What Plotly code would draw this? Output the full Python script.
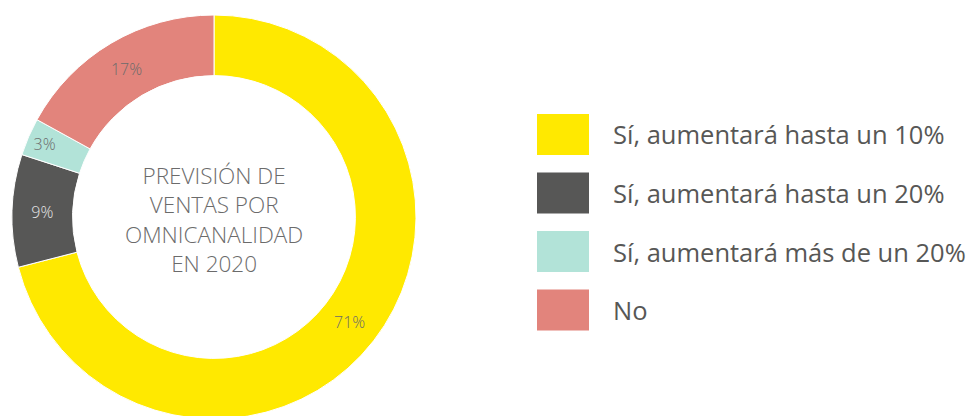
import plotly.graph_objects as go

labels = ["Sí, aumentará hasta un 10%", "Sí, aumentará hasta un 20%",
          "Sí, aumentará más de un 20%", "No"]
values = [71, 9, 3, 17]
colors = ["#FFE900", "#575756", "#B2E3D8", "#E2847C"]
text_colors = ["#6b6b6b", "#e6e6e6", "#6b6b6b", "#6b6b6b"]
center_lines = ["PREVISIÓN DE", "VENTAS POR", "OMNICANALIDAD", "EN 2020"]

W, H = 975, 416
OFF = 8  # page body margin

def px_x(x):
    return (x - OFF) / W

def px_y(y):
    return (H - (y - OFF)) / H

# pie geometry (page pixels)
cx, cy, r = 214, 217, 202

fig = go.Figure()
fig.add_trace(go.Pie(
    labels=labels, values=values,
    marker=dict(colors=colors, line=dict(color="white", width=1)),
    hole=0.70, sort=False, direction="clockwise", rotation=0,
    textposition="inside", insidetextorientation="horizontal",
    texttemplate="%{value}%",
    textfont=dict(family="Open Sans", size=16, color=text_colors, weight=300),
    domain=dict(x=[px_x(cx - r), px_x(cx + r)], y=[px_y(cy + r), px_y(cy - r)]),
    showlegend=False, hoverinfo="label+percent",
))

fig.add_annotation(x=px_x(cx), y=px_y(219), xref="paper", yref="paper",
                   xanchor="center", yanchor="middle",
                   text="<br>".join(center_lines), showarrow=False, align="center",
                   font=dict(family="Open Sans", size=22.5, color="#6b6b6b", weight=300))

sw_x0, sw_x1, top0, step, sw_h, text_x = 537, 589, 114, 58.5, 41, 611
for i, (lab, col) in enumerate(zip(labels, colors)):
    top = top0 + i * step
    fig.add_shape(type="rect", xref="paper", yref="paper",
                  x0=px_x(sw_x0), x1=px_x(sw_x1), y0=px_y(top + sw_h), y1=px_y(top),
                  fillcolor=col, line=dict(width=0))
    fig.add_annotation(x=px_x(text_x), y=px_y(top + sw_h / 2), xref="paper", yref="paper",
                       xanchor="left", yanchor="middle", text=lab, showarrow=False,
                       font=dict(family="Open Sans", size=25.5, color="#575756"))

fig.update_layout(width=W, height=H, margin=dict(l=0, r=0, t=0, b=0),
                  paper_bgcolor="white", plot_bgcolor="white")
fig.write_html("out.html")
